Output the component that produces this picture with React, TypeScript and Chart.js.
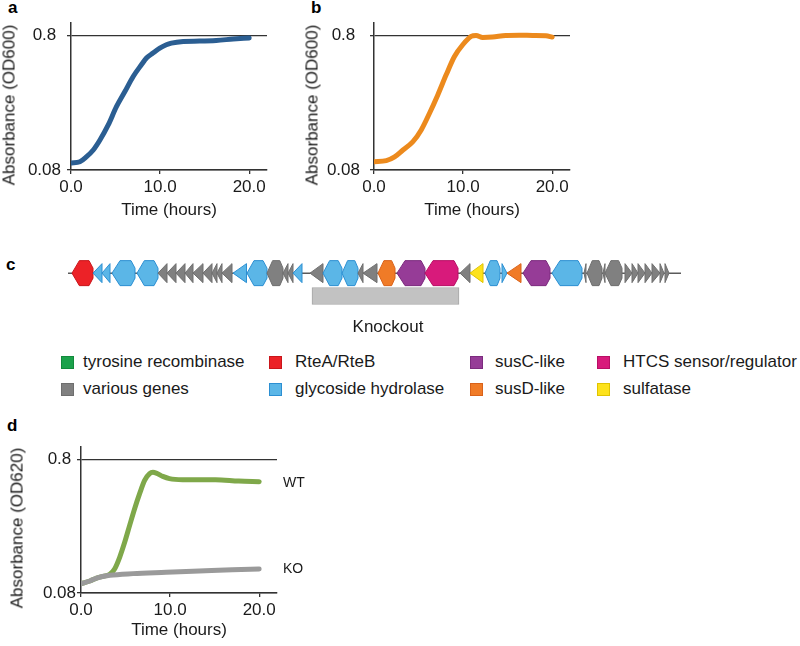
import React, { useEffect, useRef } from 'react';
import { Chart, registerables } from 'chart.js';

Chart.register(...registerables);

const FONT = "'Liberation Sans', Arial, Helvetica, sans-serif";
const AXIS = '#333333';
const TEXT = '#1a1a1a';

// ---------- growth curves: shared axis ticks ----------
const xTickValues = [0, 10, 20];
const xTickLabels = ['0.0', '10.0', '20.0'];
const yTickValues = [0.08, 0.8];
const yTickLabels = ['0.08', '0.8'];

// ---------- panel a ----------
const timeA = [0, 1.0, 1.72, 2.5, 3.25, 4.18, 5.1, 6.05, 6.98, 7.9, 8.47, 9.2, 9.97, 10.7, 11.27, 12.6, 14.45, 16.3, 18.2, 20.0];
const odA = [0.0901, 0.0922, 0.1001, 0.1127, 0.1337, 0.173, 0.2365, 0.3064, 0.3964, 0.4843, 0.5433, 0.5915, 0.6443, 0.6824, 0.7021, 0.7219, 0.727, 0.735, 0.752, 0.766];

// ---------- panel b ----------
const timeB = [0, 1.38, 2.31, 3.25, 4.37, 5.3, 6.23, 7.16, 8.1, 9.03, 9.96, 10.9, 11.46, 12.2, 13.3, 14.8, 16.3, 17.8, 19.3, 20.0];
const odB = [0.0922, 0.0939, 0.1001, 0.1127, 0.1301, 0.1589, 0.2114, 0.2892, 0.4075, 0.5583, 0.6824, 0.787, 0.8, 0.773, 0.778, 0.8, 0.803, 0.8, 0.796, 0.778];

// ---------- panel d ----------
const timeWT = [0, 1.0, 1.75, 2.49, 3.23, 3.79, 4.35, 4.91, 5.46, 6.02, 6.58, 7.14, 7.7, 8.07, 8.44, 9.18, 9.93, 11.4, 15.1, 17.7, 20.0];
const odWT = [0.094, 0.0984, 0.1035, 0.1067, 0.1104, 0.1216, 0.1486, 0.1923, 0.2565, 0.342, 0.4429, 0.557, 0.626, 0.64, 0.632, 0.597, 0.574, 0.564, 0.564, 0.551, 0.545];
const timeKO = [0, 1.0, 1.75, 3.23, 5.84, 9.55, 13.27, 16.99, 20.0];
const odKO = [0.094, 0.0984, 0.1035, 0.1085, 0.1117, 0.1142, 0.1168, 0.1196, 0.121];

// ---------- panel c: gene map (kb) ----------
const backboneStart = 0;
const backboneEnd = 61.3;
const geneStart = [0.4, 2.5, 3.4, 4.4, 6.9, 9.0, 9.9, 10.8, 11.7, 12.5, 13.5, 14.4, 14.9, 15.4, 16.5, 17.9, 19.9, 21.5, 22.0, 22.5, 24.2, 25.5, 27.4, 29.0, 29.5, 31.0, 32.9, 35.7, 39.2, 40.2, 41.7, 43.4, 43.9, 45.5, 48.4, 51.6, 51.9, 53.5, 53.7, 55.7, 56.4, 57.0, 57.7, 58.4, 59.2, 59.7];
const geneEnd = [2.5, 3.4, 4.2, 6.7, 9.0, 9.9, 10.8, 11.7, 12.5, 13.5, 14.4, 14.9, 15.4, 16.4, 17.85, 19.9, 21.5, 22.0, 22.5, 23.4, 25.5, 27.4, 29.0, 29.5, 30.9, 32.7, 35.7, 39.0, 40.2, 41.5, 43.2, 43.9, 45.3, 48.2, 51.4, 51.8, 53.4, 53.7, 55.4, 56.4, 57.0, 57.7, 58.4, 59.2, 59.6, 60.1];
const geneStrand = [-1, -1, -1, -1, -1, -1, -1, -1, -1, -1, -1, -1, -1, -1, -1, -1, -1, -1, -1, -1, -1, -1, -1, -1, -1, -1, -1, -1, -1, -1, -1, 1, -1, -1, -1, -1, -1, -1, -1, 1, 1, 1, 1, 1, 1, 1];
// family index into geneFamilies
const geneFamily = [2, 3, 3, 3, 3, 1, 1, 1, 1, 1, 1, 1, 1, 1, 3, 3, 1, 1, 1, 3, 1, 3, 3, 1, 1, 5, 4, 6, 1, 7, 3, 3, 5, 4, 3, 1, 1, 1, 1, 1, 1, 1, 1, 1, 1, 1];
const geneFamilies = ['tyrosine recombinase', 'various genes', 'RteA/RteB', 'glycoside hydrolase', 'susC-like', 'susD-like', 'HTCS sensor/regulator', 'sulfatase'];
const knockoutRange = [24.4, 39.1];
const knockoutLabel = 'Knockout';

// styles (not data)
const familyFill = ['#1ba24b', '#808080', '#ec2227', '#5bb6e7', '#963c97', '#f07b27', '#d81a7b', '#fde21c'];
const familyStroke = ['#128a3c', '#6e6e6e', '#c9161b', '#2c8fd2', '#7c2b7e', '#d9621a', '#b80f65', '#e0c400'];
const legendOrder = [[0, 2, 4, 6], [1, 3, 5, 7]];
const legendX = [[61, 83], [269, 295], [470, 495], [597, 623]];

type Series = { t: number[]; v: number[]; color: string };

type PanelProps = {
  left: number; top: number; width: number; height: number;
  series: Series[];
  yWidth: number; padTop: number; padRight: number; xHeight: number;
  xTitlePad: number; yTickPad: number;
};

function GrowthPanel(p: PanelProps) {
  const ref = useRef<HTMLCanvasElement | null>(null);
  useEffect(() => {
    if (!ref.current) return;
    const font = { family: FONT, size: 17, lineHeight: 1.2 };
    const chart = new Chart(ref.current, {
      type: 'line',
      data: {
        datasets: p.series.map((s) => ({
          data: s.t.map((t, i) => ({ x: t, y: s.v[i] })),
          borderColor: s.color,
          backgroundColor: s.color,
          borderWidth: 5,
          pointRadius: 0,
          cubicInterpolationMode: 'monotone' as const,
          borderCapStyle: 'round' as const,
          fill: false,
        })),
      },
      options: {
        responsive: false,
        animation: false,
        events: [],
        layout: { padding: { left: 0, top: p.padTop, right: p.padRight, bottom: 0 } },
        plugins: { legend: { display: false }, tooltip: { enabled: false } },
        scales: {
          x: {
            type: 'linear',
            min: 0,
            max: 22,
            afterBuildTicks: (s: any) => { s.ticks = xTickValues.map((v) => ({ value: v })); },
            afterFit: (s: any) => { s.height = p.xHeight; },
            ticks: {
              callback: (v: any) => xTickLabels[xTickValues.indexOf(Number(v))] ?? '',
              font,
              color: TEXT,
              padding: 3,
              maxRotation: 0,
              autoSkip: false,
            },
            grid: { drawOnChartArea: false, drawTicks: true, tickLength: 4, color: AXIS, lineWidth: 1.3 },
            border: { display: true, color: AXIS, width: 1.5 },
            title: { display: true, text: 'Time (hours)', font, color: TEXT, padding: { top: 0, bottom: p.xTitlePad } },
          },
          y: {
            type: 'logarithmic',
            min: 0.08,
            max: 0.99,
            afterBuildTicks: (s: any) => { s.ticks = yTickValues.map((v) => ({ value: v })); },
            afterFit: (s: any) => { s.width = p.yWidth; },
            ticks: {
              callback: (v: any) => yTickLabels[yTickValues.indexOf(Number(v))] ?? '',
              font,
              color: TEXT,
              padding: p.yTickPad,
              crossAlign: 'center',
              autoSkip: false,
            },
            grid: { drawOnChartArea: true, drawTicks: true, tickLength: 4, color: AXIS, lineWidth: 1.3 },
            border: { display: true, color: AXIS, width: 1.5 },
          },
        },
      } as any,
    });
    return () => chart.destroy();
  }, []);
  return (
    <canvas
      ref={ref}
      width={p.width}
      height={p.height}
      style={{ position: 'absolute', left: p.left, top: p.top, width: p.width, height: p.height }}
    />
  );
}

const TRACK_GENES = 0;
const TRACK_KO = 1;

const genePlugin = {
  id: 'geneArrows',
  beforeDatasetsDraw(chart: any) {
    const { ctx, scales } = chart;
    const x = scales.x;
    const y = scales.y;
    const yc = y.getPixelForValue(TRACK_GENES);
    ctx.save();
    ctx.strokeStyle = '#5a5a5a';
    ctx.lineWidth = 1.5;
    ctx.beginPath();
    ctx.moveTo(x.getPixelForValue(backboneStart), yc);
    ctx.lineTo(x.getPixelForValue(backboneEnd), yc);
    ctx.stroke();
    ctx.lineJoin = 'round';
    for (let i = 0; i < geneStart.length; i++) {
      const a = x.getPixelForValue(geneStart[i]);
      const b = x.getPixelForValue(geneEnd[i]);
      const w = b - a;
      const len = geneEnd[i] - geneStart[i];
      const big = len >= 1.45;
      const fam = geneFamily[i];
      const dir = geneStrand[i];
      let pts: [number, number][];
      if (big) {
        const h2 = 12.5;
        const head = Math.min(w * 0.35, 8);
        const tail = Math.min(w * 0.2, 4);
        pts = [
          [0, 0], [head, -h2], [w - tail, -h2], [w, -h2 * 0.4],
          [w, h2 * 0.4], [w - tail, h2], [head, h2],
        ];
      } else {
        const h2 = 9.5;
        pts = [[0, 0], [w, -h2], [w, h2]];
      }
      ctx.beginPath();
      pts.forEach(([px, py], k) => {
        const X = dir < 0 ? a + px : b - px;
        if (k === 0) ctx.moveTo(X, yc + py); else ctx.lineTo(X, yc + py);
      });
      ctx.closePath();
      ctx.fillStyle = familyFill[fam];
      ctx.fill();
      ctx.strokeStyle = familyStroke[fam];
      ctx.lineWidth = 1;
      ctx.stroke();
    }
    ctx.restore();
  },
};

function GeneMap() {
  const ref = useRef<HTMLCanvasElement | null>(null);
  useEffect(() => {
    if (!ref.current) return;
    const chart = new Chart(ref.current, {
      type: 'bar',
      data: {
        datasets: [
          {
            data: [{ x: knockoutRange, y: TRACK_KO }],
            backgroundColor: '#c2c2c2',
            borderColor: '#a6a6a6',
            borderWidth: 1,
            borderSkipped: false,
            barThickness: 17,
          } as any,
        ],
      },
      options: {
        indexAxis: 'y',
        responsive: false,
        animation: false,
        events: [],
        layout: { padding: 0 },
        plugins: { legend: { display: false }, tooltip: { enabled: false } },
        scales: {
          x: { type: 'linear', min: -6.8, max: 73.2, display: false },
          y: { type: 'linear', min: -0.902, max: 2.377, reverse: true, display: false },
        },
      } as any,
      plugins: [genePlugin],
    });
    return () => chart.destroy();
  }, []);
  return (
    <canvas ref={ref} width={800} height={100} style={{ position: 'absolute', left: 0, top: 240, width: 800, height: 100 }} />
  );
}

const letterStyle: React.CSSProperties = {
  position: 'absolute', fontFamily: FONT, fontWeight: 'bold', fontSize: 17, color: '#000', lineHeight: 'normal',
};
const textStyle: React.CSSProperties = {
  position: 'absolute', fontFamily: FONT, fontSize: 17, color: TEXT, lineHeight: 'normal', whiteSpace: 'nowrap',
};

function YTitle({ cx, cy, text }: { cx: number; cy: number; text: string }) {
  return (
    <div style={{
      position: 'absolute', left: cx, top: cy, fontFamily: FONT, fontSize: 17, lineHeight: '17px',
      color: TEXT, whiteSpace: 'nowrap', transform: 'translate(-50%, -50%) rotate(-90deg)',
    }}>{text}</div>
  );
}

export default function App() {
  return (
    <div style={{ position: 'absolute', left: 0, top: 0, width: 800, height: 646, background: '#fff', overflow: 'hidden' }}>
      <div style={{ ...letterStyle, left: 8, top: -2 }}>a</div>
      <div style={{ ...letterStyle, left: 311, top: -2 }}>b</div>
      <div style={{ ...letterStyle, left: 6, top: 255 }}>c</div>
      <div style={{ ...letterStyle, left: 7, top: 416 }}>d</div>

      <GrowthPanel left={0} top={0} width={280} height={225}
        series={[{ t: timeA, v: odA, color: '#2b5e92' }]}
        yWidth={71} padTop={23} padRight={13} xHeight={55}
        xTitlePad={4} yTickPad={6} />
      <YTitle cx={9} cy={105} text="Absorbance (OD600)" />
      <GrowthPanel left={280} top={0} width={300} height={225}
        series={[{ t: timeB, v: odB, color: '#ec8a1d' }]}
        yWidth={94} padTop={23} padRight={10} xHeight={55}
        xTitlePad={4} yTickPad={10} />
      <YTitle cx={312} cy={105} text="Absorbance (OD600)" />

      <GeneMap />
      <div style={{ ...textStyle, left: 288, width: 200, textAlign: 'center', top: 317 }}>{knockoutLabel}</div>

      {legendOrder.map((row, r) =>
        row.map((fam, c) => (
          <React.Fragment key={`${r}-${c}`}>
            <div style={{
              position: 'absolute', left: legendX[c][0], top: 356 + r * 27, width: 11, height: 11,
              background: familyFill[fam], border: `1px solid ${familyStroke[fam]}`,
            }} />
            <div style={{ ...textStyle, left: legendX[c][1], top: 352 + r * 27 }}>{geneFamilies[fam]}</div>
          </React.Fragment>
        ))
      )}

      <GrowthPanel left={0} top={410} width={300} height={236}
        series={[{ t: timeKO, v: odKO, color: '#9a9a9a' }, { t: timeWT, v: odWT, color: '#7fa84a' }]}
        yWidth={81} padTop={37} padRight={23} xHeight={53}
        xTitlePad={5} yTickPad={1} />
      <YTitle cx={17} cy={528} text="Absorbance (OD620)" />
      <div style={{ ...textStyle, fontSize: 14, left: 283, top: 474 }}>WT</div>
      <div style={{ ...textStyle, fontSize: 14, left: 283, top: 560 }}>KO</div>
    </div>
  );
}
